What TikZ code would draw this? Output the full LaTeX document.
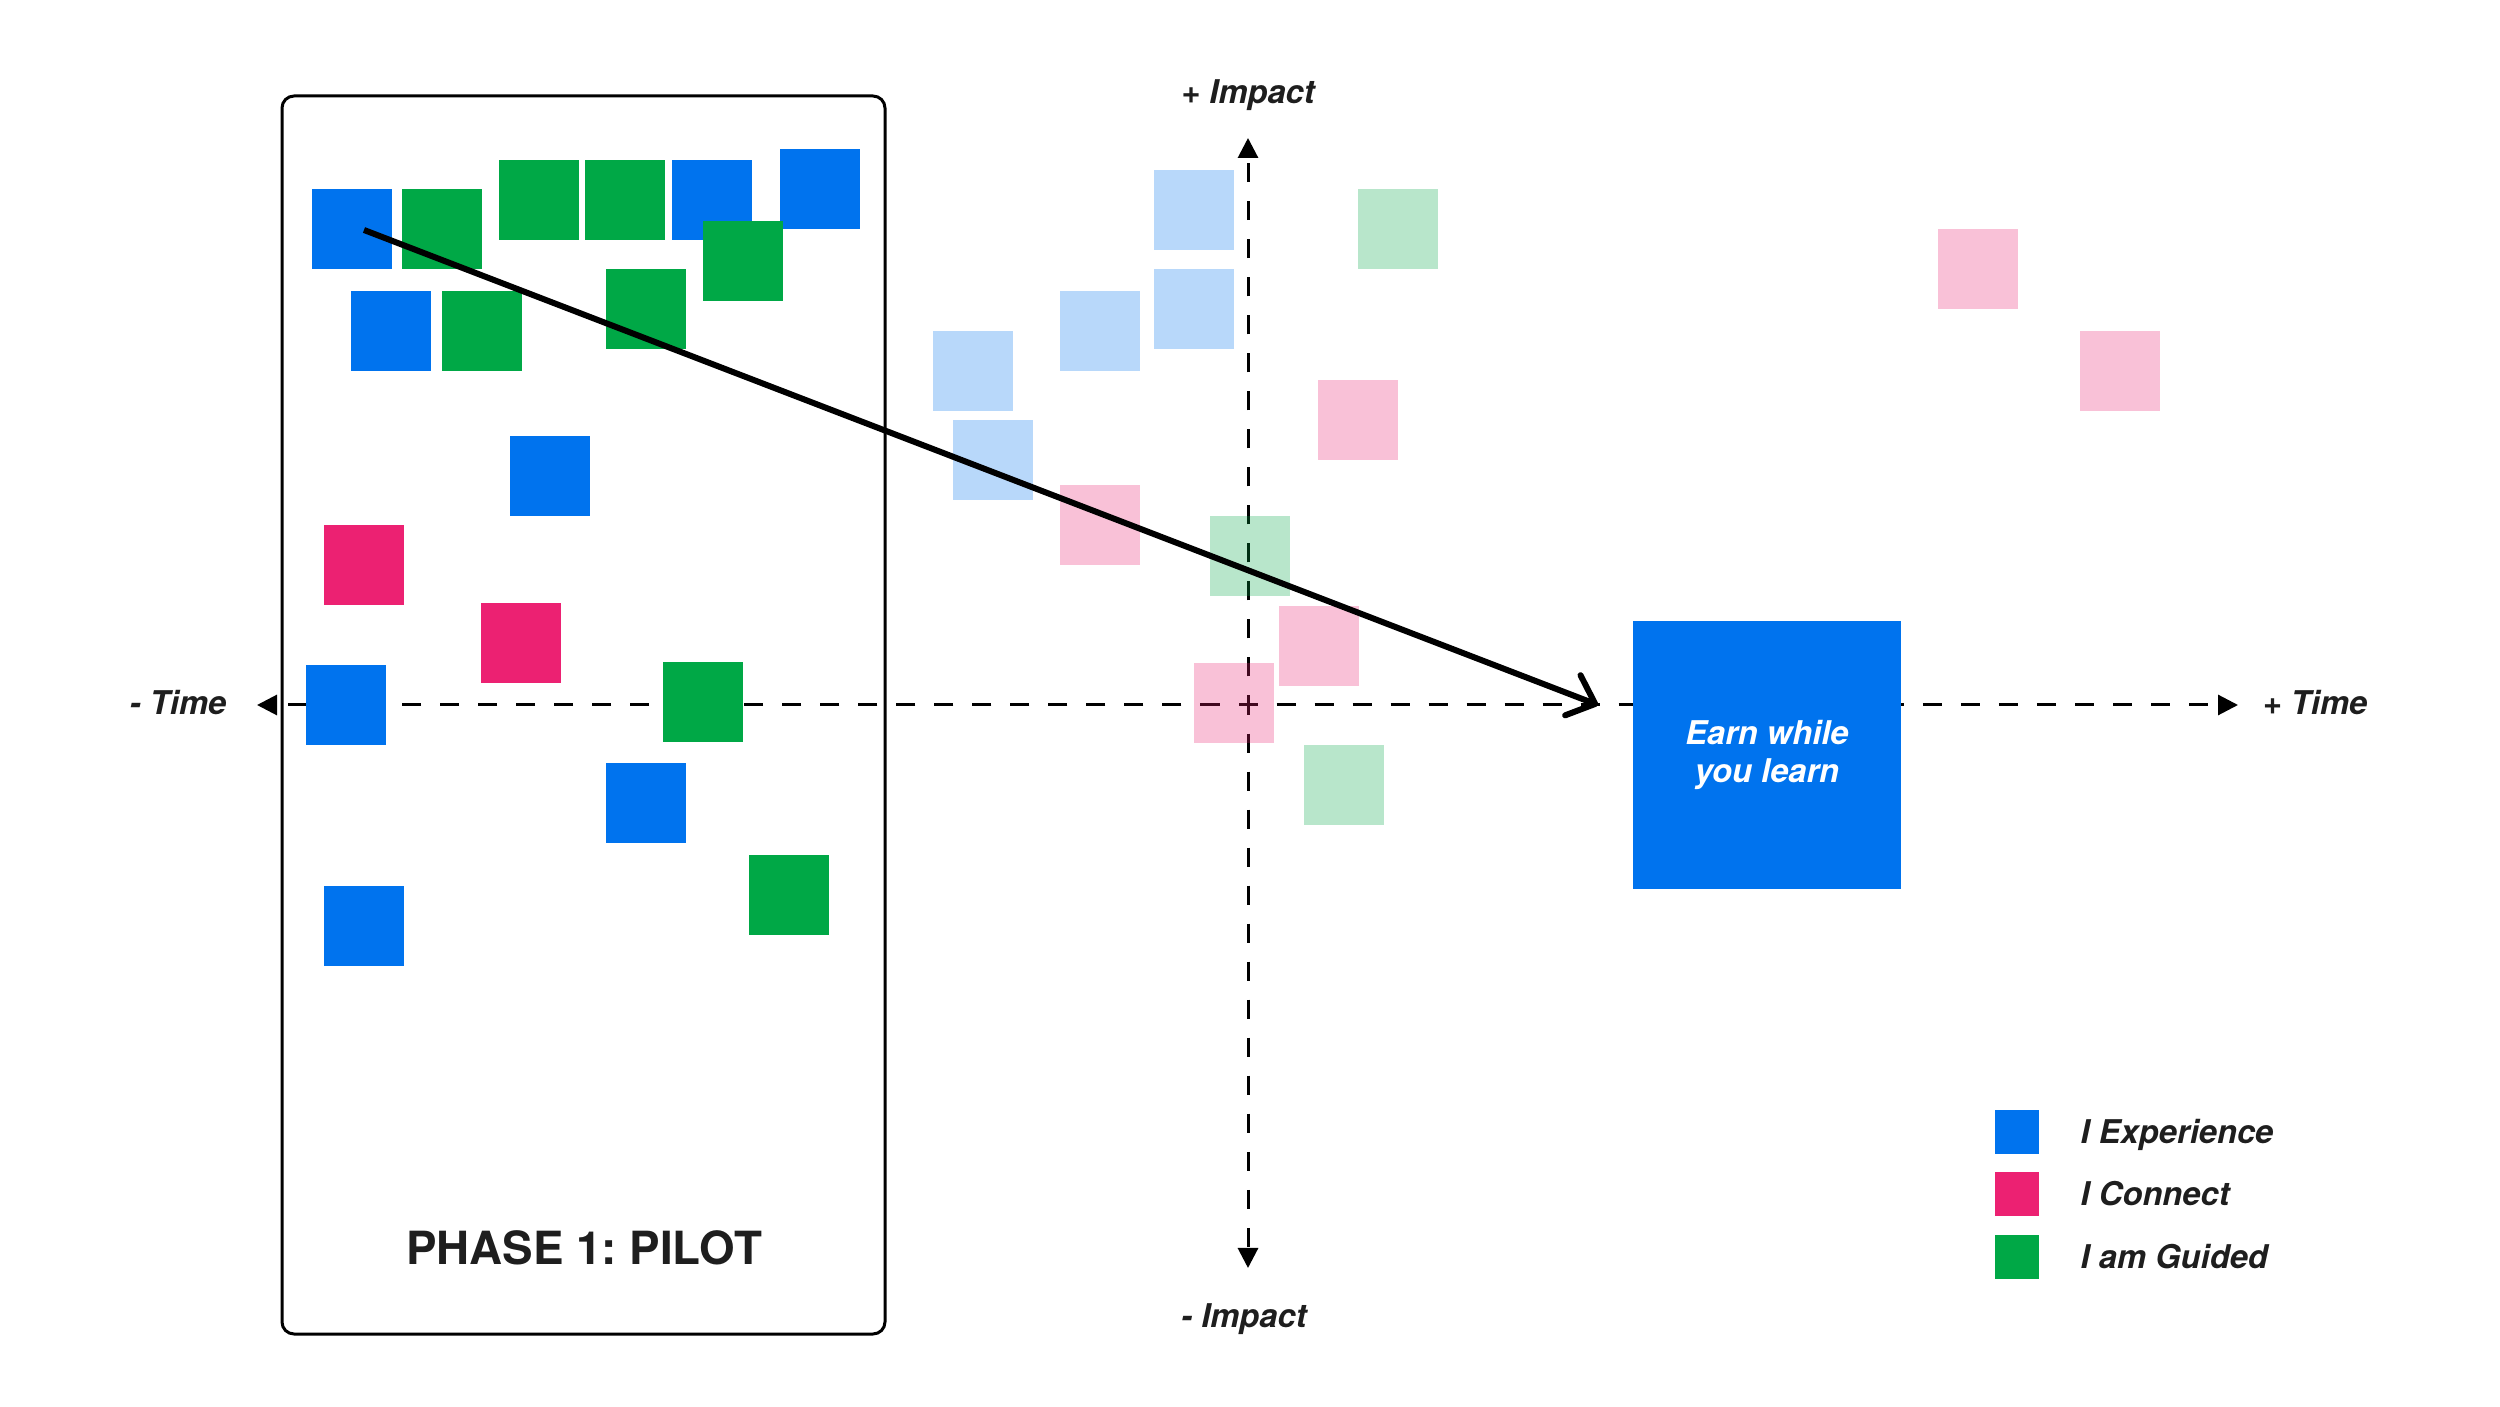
\documentclass[tikz,border=0pt]{standalone}
\usepackage{fontspec}
\setmainfont{TeX Gyre Heros}
\usetikzlibrary{arrows.meta}

\definecolor{xpblue}{HTML}{0073EE}
\definecolor{cnpink}{HTML}{EC2172}
\definecolor{gdgreen}{HTML}{00A846}
\definecolor{ink}{HTML}{1E1E1E}

\tikzset{
  card/.style={minimum size=0.8cm,inner sep=0pt,outer sep=0pt},
  faint/.style={card,fill opacity=0.28},
  halfaxis/.style={line width=0.03cm,dash pattern=on 0.19cm off 0.19cm,dash phase=0.095cm,
    -{Triangle[length=0.2cm,width=0.2cm]}},
  lbl/.style={font=\fontsize{9.3}{10.8}\selectfont\bfseries\itshape,text=ink,inner sep=0pt},
}

\begin{document}
\begin{tikzpicture}[x=0.01cm,y=-0.01cm]
  \fill[white] (0,0) rectangle (2500,1407);
  \useasboundingbox (0,0) rectangle (2500,1407);
  % axes, dashed out from the crossing
  \coordinate (o) at (1248,705);
  \coordinate (tminus) at (257,705);
  \coordinate (tplus) at (2238,705);
  \coordinate (iplus) at (1248,138);
  \coordinate (iminus) at (1248,1268);
  \foreach \e in {tminus,tplus,iplus,iminus}{\draw[halfaxis] (o) -- (\e);}
  \node[lbl,anchor=base] (lip) at (1248,104) {+ Impact};
  \node[lbl,anchor=base] (lim) at (1244,1327) {- Impact};
  \node[lbl,anchor=base east] (ltm) at (227,715) {- Time};
  \node[lbl,anchor=base west] (ltp) at (2262,715) {+ Time};

  % pilot cards
  \foreach \n/\x/\y in {xp1/352/229,xp2/712/200,xp3/820/189,xp4/391/331,xp5/550/476,xp6/346/705,xp7/646/803,xp8/364/926}
    \node[card,fill=xpblue] (\n) at (\x,\y) {};
  \foreach \n/\x/\y in {cn1/364/565,cn2/521/643}
    \node[card,fill=cnpink] (\n) at (\x,\y) {};
  \foreach \n/\x/\y in {gd1/442/229,gd2/539/200,gd3/625/200,gd4/743/261,gd5/482/331,gd6/646/309,gd7/703/702,gd8/789/895}
    \node[card,fill=gdgreen] (\n) at (\x,\y) {};

  % later cards, faded
  \foreach \n/\x/\y in {fxp1/1194/210,fxp2/1100/331,fxp3/1194/309,fxp4/973/371,fxp5/993/460}
    \node[faint,fill=xpblue] (\n) at (\x,\y) {};
  \foreach \n/\x/\y in {fgd1/1398/229,fgd2/1250/556,fgd3/1344/785}
    \node[faint,fill=gdgreen] (\n) at (\x,\y) {};
  \foreach \n/\x/\y in {fcn1/1358/420,fcn2/1100/525,fcn3/1319/646,fcn4/1234/703,fcn5/1978/269,fcn6/2120/371}
    \node[faint,fill=cnpink] (\n) at (\x,\y) {};

  \node[card,minimum size=2.68cm,fill=xpblue,lbl,text=white,align=center] (ewyl) at (1767,755) {Earn while\\you learn};

  % phase box
  \draw[line width=0.03cm,rounded corners=0.12cm] (282,96) rectangle (885,1334);
  \node[font=\fontsize{13}{15}\selectfont\bfseries,text=ink,inner sep=0pt,anchor=base] (phase) at (584,1264) {PHASE 1:\ PILOT};

  % legend
  \foreach \n/\c/\y/\t in {kxp/xpblue/1132/I Experience,kcn/cnpink/1194/I Connect,kgd/gdgreen/1257/I am Guided}{
    \node[card,minimum size=0.44cm,fill=\c] (\n) at (2017,\y) {};
    \node[lbl,anchor=base west] (\n-t) at (2080,\y+11) {\t};}

  \coordinate (start) at (364,230);
  \coordinate (goal) at (1598,705);
  \draw[line width=0.06cm,-{Straight Barb[length=0.24cm,width=0.43cm,round]}] (start) -- (goal);
\end{tikzpicture}
\end{document}
